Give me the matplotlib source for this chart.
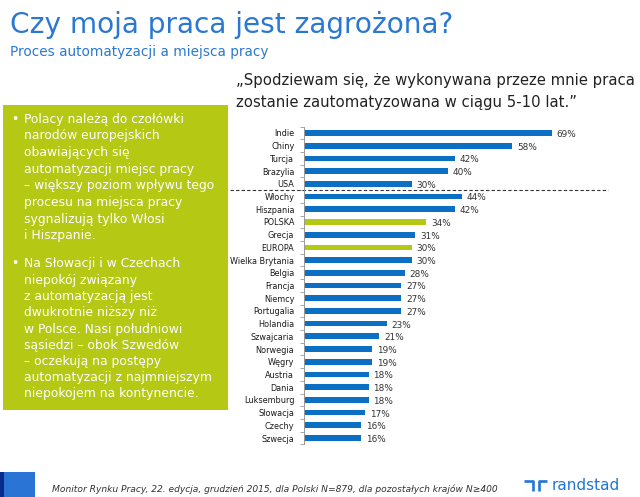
import matplotlib
matplotlib.use('Agg')
import matplotlib.pyplot as plt
import matplotlib.transforms as mtransforms
from matplotlib.patches import Rectangle

# DATA

countries = ['Indie', 'Chiny', 'Turcja', 'Brazylia', 'USA',
             'Włochy', 'Hiszpania', 'POLSKA', 'Grecja', 'EUROPA',
             'Wielka Brytania', 'Belgia', 'Francja', 'Niemcy', 'Portugalia',
             'Holandia', 'Szwajcaria', 'Norwegia', 'Węgry', 'Austria',
             'Dania', 'Luksemburg', 'Słowacja', 'Czechy', 'Szwecja']
values = [69, 58, 42, 40, 30,
          44, 42, 34, 31, 30,
          30, 28, 27, 27, 27,
          23, 21, 19, 19, 18,
          18, 18, 17, 16, 16]
highlight = ['POLSKA', 'EUROPA']
n_outside_europe = 5

title = 'Czy moja praca jest zagrożona?'
subtitle = 'Proces automatyzacji a miejsca pracy'
quote_lines = ['„Spodziewam się, że wykonywana przeze mnie praca',
               'zostanie zautomatyzowana w ciągu 5-10 lat.”']
para1 = ['Polacy należą do czołówki', 'narodów europejskich', 'obawiających się',
         'automatyzacji miejsc pracy', '– większy poziom wpływu tego',
         'procesu na miejsca pracy', 'sygnalizują tylko Włosi', 'i Hiszpanie.']
para2 = ['Na Słowacji i w Czechach', 'niepokój związany', 'z automatyzacją jest',
         'dwukrotnie niższy niż', 'w Polsce. Nasi południowi', 'sąsiedzi – obok Szwedów',
         '– oczekują na postępy', 'automatyzacji z najmniejszym', 'niepokojem na kontynencie.']
source = ('Monitor Rynku Pracy, 22. edycja, grudzień 2015, dla Polski N=879, '
          'dla pozostałych krajów N≥400')

BLUE = '#0b6fc4'
LIME = '#b4c814'
TITLE_BLUE = '#2a78d2'

W, H = 640, 497
fig = plt.figure(figsize=(W / 100, H / 100), dpi=100)
fig.patch.set_facecolor('white')


def px(x, y):
    return x / W, 1 - y / H


# HEADER

fig.text(*px(10, 33), title, fontsize=20.2, color=TITLE_BLUE, va='baseline')
fig.text(*px(10, 56), subtitle, fontsize=9.8, color=TITLE_BLUE, va='baseline')
for i, line in enumerate(quote_lines):
    fig.text(*px(236, 85 + i * 22), line, fontsize=10.7, color='#222222', va='baseline')

# GREEN TEXT BOX

fig.patches.append(Rectangle(px(3, 410), 225 / W, 305 / H, transform=fig.transFigure,
                             facecolor=LIME, edgecolor='none', zorder=0))
for lines, y0, step in [(para1, 122.5, 16.7), (para2, 267.5, 16.25)]:
    fig.text(*px(11, y0), '•', fontsize=8.9, color='white', va='baseline')
    for i, line in enumerate(lines):
        fig.text(*px(24, y0 + i * step), line, fontsize=8.9, color='white', va='baseline')

# BAR CHART

ax = fig.add_axes([304 / W, 1 - 444.4 / H, 304 / W, 317.8 / H])
pos = list(range(len(countries)))
colors = [LIME if c in highlight else BLUE for c in countries]
ax.barh(pos, values, height=0.45, color=colors)
for p, v in zip(pos, values):
    ax.annotate(f'{v}%', (v, p), xytext=(3.5, -1), textcoords='offset points',
                va='center', ha='left', fontsize=6.4, color='#333333')

ax.set_xlim(0, 84.6)
ax.set_ylim(len(countries) - 0.5, -0.5)
ax.set_yticks(pos)
ax.set_yticklabels(countries, fontsize=5.9, color='#1a1a1a')
ax.set_yticks([p - 0.5 for p in pos] + [len(countries) - 0.5], minor=True)
ax.tick_params(axis='y', which='major', length=0, pad=7)
ax.tick_params(axis='y', which='minor', length=3, color='#999999', width=0.6)
ax.set_xticks([])
for s in ['top', 'right', 'bottom']:
    ax.spines[s].set_visible(False)
ax.spines['left'].set_color('#999999')
ax.spines['left'].set_linewidth(0.7)
ax.set_facecolor('none')

trans = mtransforms.blended_transform_factory(ax.transAxes, ax.transData)
ax.plot([-0.243, 1.0], [n_outside_europe - 0.5] * 2, transform=trans, clip_on=False,
        linestyle='--', color='#333333', linewidth=0.8, dashes=(3, 2))

# FOOTER

fig.patches.append(Rectangle(px(0, 497), 35 / W, 25 / H, transform=fig.transFigure,
                             facecolor='#2a74d6', edgecolor='none'))
fig.patches.append(Rectangle(px(0, 497), 4 / W, 25 / H, transform=fig.transFigure,
                             facecolor='#0b2a8a', edgecolor='none'))
fig.text(*px(52, 492), source, fontsize=6.6, style='italic', color='#333333', va='baseline')

# logo mark
logo_kw = dict(transform=fig.transFigure, color='#2175d9', linewidth=1.9,
               solid_capstyle='butt', solid_joinstyle='round')
fig.add_artist(plt.Line2D([524 / W, 533 / W, 533 / W], [1 - 481 / H, 1 - 481 / H, 1 - 491 / H], **logo_kw))
fig.add_artist(plt.Line2D([539 / W, 539 / W, 547 / W], [1 - 491 / H, 1 - 481 / H, 1 - 481 / H], **logo_kw))
fig.text(*px(552, 490), 'randstad', fontsize=11, color='#2175d9', va='baseline')

fig.savefig('out.png', dpi=100)
